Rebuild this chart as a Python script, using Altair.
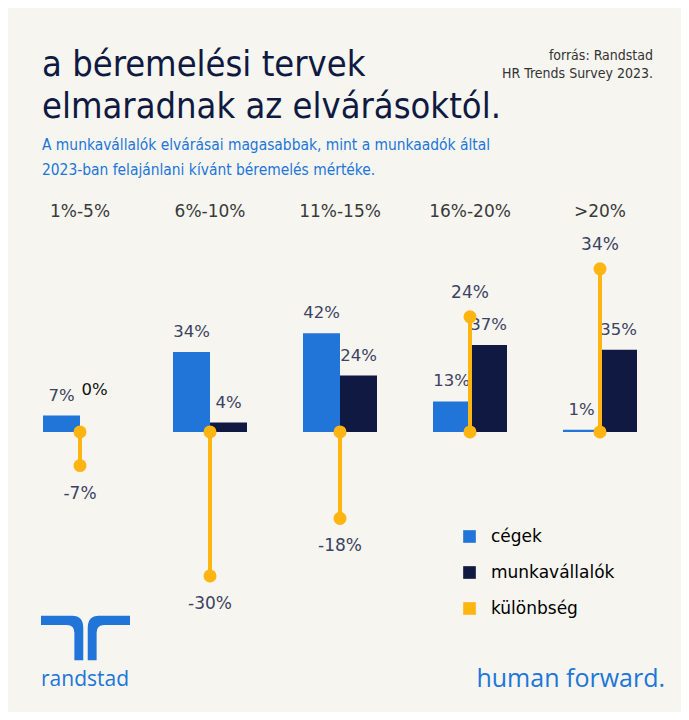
import altair as alt
import pandas as pd

# ---- data ----
categories = ["1%-5%", "6%-10%", "11%-15%", "16%-20%", ">20%"]
cegek = [7, 34, 42, 13, 1]
munkavallalok = [0, 4, 24, 37, 35]
kulonbseg = [-7, -30, -18, 24, 34]
series_names = ["cégek", "munkavállalók", "különbség"]

title_lines = ["a béremelési tervek", "elmaradnak az elvárásoktól."]
subtitle_lines = [
    "A munkavállalók elvárásai magasabbak, mint a munkaadók által",
    "2023-ban felajánlani kívánt béremelés mértéke.",
]
source_lines = ["forrás: Randstad", "HR Trends Survey 2023."]

BLUE = "#2175d9"
NAVY = "#0f1941"
YELLOW = "#ffb511"
BG = "#f6f5f0"
LABEL = "#3c4263"

rows = []
for c, a, b in zip(categories, cegek, munkavallalok):
    rows.append({"cat": c, "series": "cégek", "value": a, "label": f"{a}%"})
    rows.append({"cat": c, "series": "munkavállalók", "value": b, "label": f"{b}%"})
bars_df = pd.DataFrame(rows)
diff_df = pd.DataFrame({"cat": categories, "diff": kulonbseg,
                        "label": [f"{d}%" for d in kulonbseg]})

x = alt.X("cat:N", sort=categories,
          scale=alt.Scale(domain=categories, paddingInner=0, paddingOuter=0),
          axis=alt.Axis(orient="top", title=None, domain=False, ticks=False,
                        labelAngle=0, labelFontSize=17, labelFont="DejaVu Sans",
                        labelColor="#3a3a3a", labelPadding=10))
xoff = alt.XOffset("series:N",
                   scale=alt.Scale(domain=["cégek", "munkavállalók"],
                                   paddingInner=0, paddingOuter=0.757))
y_bar = alt.Y("value:Q", scale=alt.Scale(domain=[-80, 85.96], nice=False, zero=False), axis=None)
y_diff = alt.Y("diff:Q", scale=alt.Scale(domain=[-39.17, 42.08], nice=False, zero=False), axis=None)

bars = alt.Chart(bars_df).mark_bar().encode(
    x=x, xOffset=xoff, y=y_bar, y2=alt.datum(0),
    color=alt.Color("series:N",
                    scale=alt.Scale(domain=series_names, range=[BLUE, NAVY, YELLOW]),
                    legend=alt.Legend(title=None, orient="none", legendX=446, legendY=298,
                                      symbolType="square", symbolSize=160,
                                      labelFontSize=17, labelFont="DejaVu Sans",
                                      labelColor="#000000", rowPadding=18,
                                      labelOffset=13, padding=0)),
)
bar_text = alt.Chart(bars_df).transform_filter("datum.value != 0").mark_text(
    dy=-20, fontSize=16.5, font="DejaVu Sans", color=LABEL).encode(
    x=x, xOffset=xoff, y=y_bar, text="label:N")
bar_text_zero = alt.Chart(bars_df).transform_filter("datum.value == 0").mark_text(
    dy=-42, dx=-4, fontSize=16.5, font="DejaVu Sans", color="#111111").encode(
    x=x, xOffset=xoff, y=y_bar, text="label:N")
left = alt.layer(bars, bar_text, bar_text_zero)

rule = alt.Chart(diff_df).mark_rule(strokeWidth=4, color=YELLOW).encode(
    x=x, y=y_diff, y2=alt.datum(0))
dot_end = alt.Chart(diff_df).mark_circle(size=170, color=YELLOW, opacity=1).encode(x=x, y=y_diff)
dot_zero = alt.Chart(diff_df).mark_circle(size=170, color=YELLOW, opacity=1).encode(
    x=x, y=alt.Y(datum=0, scale=alt.Scale(domain=[-39.17, 42.08], nice=False, zero=False), axis=None))
diff_neg = alt.Chart(diff_df).transform_filter("datum.diff < 0").mark_text(
    dy=28, fontSize=17, font="DejaVu Sans", color=LABEL).encode(x=x, y=y_diff, text="label:N")
diff_pos = alt.Chart(diff_df).transform_filter("datum.diff >= 0").mark_text(
    dy=-24, fontSize=17, font="DejaVu Sans", color=LABEL).encode(x=x, y=y_diff, text="label:N")
right = alt.layer(rule, dot_end, dot_zero, diff_neg, diff_pos)

one = alt.Data(values=[{}])
title = alt.Chart(one).mark_text(text=title_lines, align="left", baseline="alphabetic",
                                 fontSize=36, font="DejaVu Sans Condensed",
                                 color=NAVY, lineHeight=42).encode(
    x=alt.value(27), y=alt.value(-154))
subtitle = alt.Chart(one).mark_text(text=subtitle_lines, align="left", baseline="alphabetic",
                                    fontSize=15.4, font="DejaVu Sans Condensed",
                                    color=BLUE, lineHeight=25).encode(
    x=alt.value(27), y=alt.value(-80))
source = alt.Chart(one).mark_text(text=source_lines, align="right", baseline="top",
                                  fontSize=14, font="DejaVu Sans Condensed",
                                  color="#333333", lineHeight=18).encode(
    x=alt.value(638), y=alt.value(-181))
logo_path = ("M -1 -0.5 L -0.3 -0.5 Q -0.05 -0.5 -0.05 -0.22 L -0.05 0.5 L -0.25 0.5 "
             "L -0.25 -0.12 Q -0.25 -0.29 -0.42 -0.29 L -1 -0.29 Z "
             "M 1 -0.5 L 0.3 -0.5 Q 0.05 -0.5 0.05 -0.22 L 0.05 0.5 L 0.25 0.5 "
             "L 0.25 -0.12 Q 0.25 -0.29 0.42 -0.29 L 1 -0.29 Z")
logo = alt.Chart(one).mark_point(shape=logo_path, filled=True, size=7921, color=BLUE,
                                 opacity=1, strokeWidth=0).encode(
    x=alt.value(70.5), y=alt.value(408))
brand = alt.Chart(one).mark_text(text="randstad", align="left", baseline="middle",
                                 fontSize=21, font="Open Sans", color=BLUE).encode(
    x=alt.value(26), y=alt.value(450))
slogan = alt.Chart(one).mark_text(text="human forward.", align="right", baseline="middle",
                                  fontSize=25, font="Open Sans", color=BLUE).encode(
    x=alt.value(650), y=alt.value(449))

chart = alt.layer(left, right, title, subtitle, source, logo, brand, slogan).resolve_scale(
    y="independent"
).properties(
    width=650, height=390, autosize="none",
    padding={"left": 7, "top": 222, "right": 16, "bottom": 92},
    background=BG,
).configure_view(strokeWidth=0)

chart.save("out.html", embed_options={"renderer": "svg", "actions": False})
